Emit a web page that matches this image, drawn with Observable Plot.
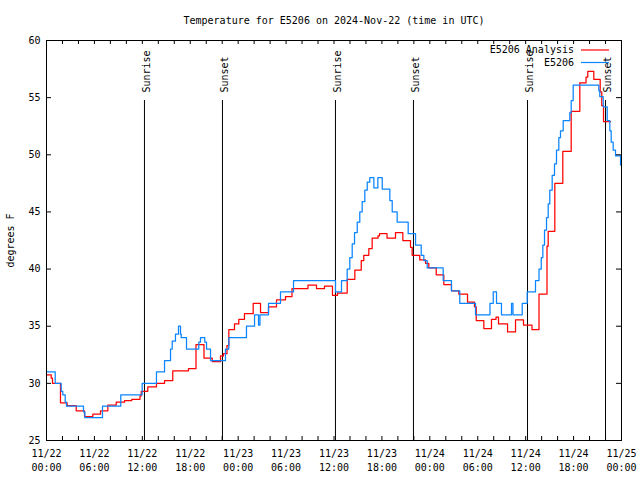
<!DOCTYPE html>
<html><head><meta charset="utf-8">
<script src="https://cdn.jsdelivr.net/npm/d3@7"></script>
<script src="https://cdn.jsdelivr.net/npm/@observablehq/plot@0.6"></script>
<style>body{margin:0;background:#fff}</style>
</head><body><div id="chart"></div>
<script>
const title = "Temperature for E5206 on 2024-Nov-22 (time in UTC)";
const yLabel = "degrees F";
const seriesNames = ["E5206 Analysis", "E5206"];
const seriesColors = ["#ff0000", "#0a84ff"];
const startUTC = Date.UTC(2024, 10, 22);

// E5206 (observations): hours since 11/22 00:00 UTC, temperature F
const obsHours = [0,1.09,1.84,2.04,2.34,2.5,4.63,4.8,7.01,9.3,11.98,13.77,14.78,15.53,15.74,16.15,16.53,16.78,16.87,17.53,19.07,19.28,19.82,20.04,20.54,22.41,22.83,25.04,26.05,26.55,26.73,27.8,29.3,30.93,36.19,36.94,37.65,37.98,38.28,38.57,38.91,39.23,39.53,39.86,40.16,40.48,40.99,41.49,42.04,42.99,43.29,43.91,45.29,46.21,46.92,47.25,47.67,49.67,50.71,51.75,53.72,55.53,55.94,56.35,56.97,58.23,58.41,59.57,60.19,61.23,61.67,61.95,62.15,62.36,62.61,62.82,63.02,63.32,63.61,63.86,64.15,64.36,64.7,65.53,65.7,65.95,69.16,69.28,69.71,70.21,70.54,70.71,70.96,71.25,71.88,72];
const obsTemps = [31,30,29.3,29,28.35,28,27.5,27,28,29,30,31,32,33,33.7,34.3,35,34.3,34,33,33.6,34,33.6,33,32,33,34,35,36,35.1,36,37,38,39,38,39,40,41,42.2,43.2,44.1,45,45.9,46.9,47.6,48,47.1,48,47,46,45,44.1,43.1,42.1,41.2,40.75,40.1,39,38.1,37,36,37,38,37,36,37,36,37,38,39,40,41,42.1,43.4,44.5,45.7,46.9,48.2,49.2,50.4,51.5,52.1,53,53.7,54.75,56.1,55.6,55.1,54.2,53,52.1,51.1,50.4,49.9,49.1,49.1];

// E5206 Analysis
const anaHours = [0,0.59,0.75,1.75,2.59,3.72,4.76,5.8,6.76,7.68,8.73,9.77,10.68,11.71,11.86,12.68,13.77,14.78,15.81,17.78,18.72,19.72,20.75,21.79,22.16,22.6,22.83,23.54,24.08,24.79,25.88,26.8,27.8,28.8,29.93,30.74,32.74,33.81,34.81,35.81,36.44,37.65,38.61,39.41,39.73,40.36,40.78,41.51,41.7,42.64,43.7,44.62,45.58,45.79,46.74,47.46,47.87,48.8,49.75,50.71,51.63,52.72,53.59,53.81,54.76,55.72,56.29,56.6,57.73,58.73,59.73,60.79,61.67,62.67,62.82,63.65,64.65,65.7,66.78,67.56,67.78,68.53,69.33,69.53,69.75,70.62];
const anaTemps = [30.75,30.45,30,28.3,28.05,27.6,27.1,27.3,27.6,28.1,28.35,28.5,28.6,28.9,29.3,29.7,30,30.25,31.1,31.3,33.4,32.2,31.9,32.4,32.6,33.3,34.7,35.2,35.6,36.1,37,36.2,36.7,37.3,37.6,38.3,38.6,38.3,38.5,37.7,37.9,39.1,39.9,40.75,41.2,41.8,42.7,42.9,43.1,42.7,43.2,42.5,41.9,41.2,40.8,40.5,40.1,39.5,38.65,38.1,37.8,37.1,36.7,35.5,34.8,35.6,35.8,35.2,34.5,35.55,35.1,34.7,37.8,42,43.3,47.5,50.3,53.8,56.3,56.8,57.3,56.6,55.5,54.3,52.9,52.9];

const sunTimes = ["2024-11-22T12:16Z","2024-11-22T22:02Z","2024-11-23T12:11Z","2024-11-23T21:57Z","2024-11-24T12:14Z","2024-11-24T22:00Z"];
const sunLabels = ["Sunrise","Sunset","Sunrise","Sunset","Sunrise","Sunset"];

const xTickHours = [0,6,12,18,24,30,36,42,48,54,60,66,72];
const xTickLabels = ["11/22\n00:00","11/22\n06:00","11/22\n12:00","11/22\n18:00","11/23\n00:00","11/23\n06:00","11/23\n12:00","11/23\n18:00","11/24\n00:00","11/24\n06:00","11/24\n12:00","11/24\n18:00","11/25\n00:00"];
const xMinorHours = [2,4,6,8,10,12,14,16,18,20,22,24,26,28,30,32,34,36,38,40,42,44,46,48,50,52,54,56,58,60,62,64,66,68,70];
const yTicks = [25,30,35,40,45,50,55,60];

const toDate = h => new Date(startUTC + h * 3600e3);
const obs = obsHours.map((h, i) => ({t: toDate(h), v: obsTemps[i]}));
const ana = anaHours.map((h, i) => ({t: toDate(h), v: anaTemps[i]}));
const sun = sunTimes.map((s, i) => ({t: new Date(s), label: sunLabels[i]}));
const labelMap = new Map(xTickHours.map((h, i) => [+toDate(h), xTickLabels[i]]));

const legend = (index, scales, values, dims) => {
  const g = d3.create("svg:g");
  const xr = dims.width - dims.marginRight;
  seriesNames.forEach((name, i) => {
    const y = dims.marginTop + 10 + i * 12.5;
    g.append("text").attr("x", xr - 47).attr("y", y).attr("dy", "0.32em")
      .attr("text-anchor", "end").attr("fill", "black").text(name);
    g.append("line").attr("x1", xr - 40).attr("x2", xr - 12).attr("y1", y).attr("y2", y)
      .attr("stroke", seriesColors[i]).attr("stroke-width", 1.2);
  });
  return g.node();
};

const chart = Plot.plot({
  width: 640, height: 480,
  marginLeft: 46, marginRight: 19, marginTop: 40, marginBottom: 40,
  style: {fontFamily: "DejaVu Sans Mono", fontSize: "10px", background: "white", color: "black"},
  x: {type: "utc", domain: [toDate(0), toDate(72)]},
  y: {domain: [25, 60]},
  marks: [
    Plot.ruleX(sun, {x: "t", insetTop: 60, stroke: "black", strokeWidth: 1}),
    Plot.text(sun, {x: "t", text: "label", frameAnchor: "top", dy: 52, dx: -1.5, rotate: -90, textAnchor: "start", fill: "black"}),
    Plot.line(ana, {x: "t", y: "v", curve: "step-after", stroke: seriesColors[0], strokeWidth: 1.25}),
    Plot.line(obs, {x: "t", y: "v", curve: "step-after", stroke: seriesColors[1], strokeWidth: 1.25}),
    Plot.tickX(xMinorHours.map(toDate), {x: d => d, insetBottom: 396, stroke: "black"}),
    Plot.tickX(xMinorHours.map(toDate), {x: d => d, insetTop: 396, stroke: "black"}),
    Plot.tickY(yTicks, {y: d => d, insetRight: 570, stroke: "black"}),
    Plot.tickY(yTicks, {y: d => d, insetLeft: 570, stroke: "black"}),
    Plot.axisY(yTicks, {tickSize: 0, tickPadding: 6, label: null, fontSize: 10}),
    Plot.axisX(xTickHours.map(toDate), {tickSize: 0, tickPadding: 7, label: null, lineHeight: 1.35, tickFormat: d => labelMap.get(+d), fontSize: 10}),
    Plot.text([title], {frameAnchor: "top", dy: -24, text: d => d, fill: "black"}),
    Plot.text([yLabel], {frameAnchor: "left", dx: -36, rotate: -90, textAnchor: "middle", text: d => d, fill: "black"}),
    legend,
    Plot.frame({stroke: "black"})
  ]
});
document.getElementById("chart").appendChild(chart);
</script>
</body></html>
